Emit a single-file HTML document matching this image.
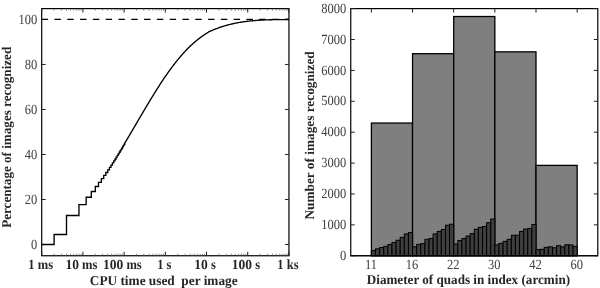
<!DOCTYPE html>
<html><head><meta charset="utf-8"><style>
html,body{margin:0;padding:0;background:#fff;width:600px;height:288px;overflow:hidden}
svg{display:block;filter:grayscale(1)}
text{font-family:"Liberation Serif",serif;fill:#000;text-rendering:geometricPrecision}
.yt{font-size:12.5px;fill:#404040}
.xt{font-size:12.5px;font-weight:bold;fill:#262626}
.lab{font-size:13.3px;font-weight:bold;fill:#262626}
</style></head><body>
<svg width="600" height="288" viewBox="0 0 600 288">
<rect x="41.7" y="8.6" width="247.25" height="247.15" fill="none" stroke="#000" stroke-width="1.2"/>
<path d="M41.7 244.50h4M288.95 244.50h-4" stroke="#222" stroke-width="1"/>
<text transform="translate(37.30,248.70) scale(1.0,1.12)" class="yt" text-anchor="end">0</text>
<path d="M41.7 199.49h4M288.95 199.49h-4" stroke="#222" stroke-width="1"/>
<text transform="translate(37.30,203.69) scale(1.0,1.12)" class="yt" text-anchor="end">20</text>
<path d="M41.7 154.48h4M288.95 154.48h-4" stroke="#222" stroke-width="1"/>
<text transform="translate(37.30,158.68) scale(1.0,1.12)" class="yt" text-anchor="end">40</text>
<path d="M41.7 109.47h4M288.95 109.47h-4" stroke="#222" stroke-width="1"/>
<text transform="translate(37.30,113.67) scale(1.0,1.12)" class="yt" text-anchor="end">60</text>
<path d="M41.7 64.46h4M288.95 64.46h-4" stroke="#222" stroke-width="1"/>
<text transform="translate(37.30,68.66) scale(1.0,1.12)" class="yt" text-anchor="end">80</text>
<path d="M41.7 19.45h4M288.95 19.45h-4" stroke="#222" stroke-width="1"/>
<text transform="translate(37.30,23.65) scale(1.0,1.12)" class="yt" text-anchor="end">100</text>
<path d="M41.70 255.75v-4M41.70 8.6v4" stroke="#222" stroke-width="1"/>
<path d="M54.10 255.75v-2M54.10 8.6v2" stroke="#555" stroke-width="0.7"/>
<path d="M61.36 255.75v-2M61.36 8.6v2" stroke="#555" stroke-width="0.7"/>
<path d="M66.51 255.75v-2M66.51 8.6v2" stroke="#555" stroke-width="0.7"/>
<path d="M70.50 255.75v-2M70.50 8.6v2" stroke="#555" stroke-width="0.7"/>
<path d="M73.77 255.75v-2M73.77 8.6v2" stroke="#555" stroke-width="0.7"/>
<path d="M76.53 255.75v-2M76.53 8.6v2" stroke="#555" stroke-width="0.7"/>
<path d="M78.91 255.75v-2M78.91 8.6v2" stroke="#555" stroke-width="0.7"/>
<path d="M81.02 255.75v-2M81.02 8.6v2" stroke="#555" stroke-width="0.7"/>
<path d="M82.91 255.75v-4M82.91 8.6v4" stroke="#222" stroke-width="1"/>
<path d="M95.31 255.75v-2M95.31 8.6v2" stroke="#555" stroke-width="0.7"/>
<path d="M102.57 255.75v-2M102.57 8.6v2" stroke="#555" stroke-width="0.7"/>
<path d="M107.72 255.75v-2M107.72 8.6v2" stroke="#555" stroke-width="0.7"/>
<path d="M111.71 255.75v-2M111.71 8.6v2" stroke="#555" stroke-width="0.7"/>
<path d="M114.97 255.75v-2M114.97 8.6v2" stroke="#555" stroke-width="0.7"/>
<path d="M117.73 255.75v-2M117.73 8.6v2" stroke="#555" stroke-width="0.7"/>
<path d="M120.12 255.75v-2M120.12 8.6v2" stroke="#555" stroke-width="0.7"/>
<path d="M122.23 255.75v-2M122.23 8.6v2" stroke="#555" stroke-width="0.7"/>
<path d="M124.12 255.75v-4M124.12 8.6v4" stroke="#222" stroke-width="1"/>
<path d="M136.52 255.75v-2M136.52 8.6v2" stroke="#555" stroke-width="0.7"/>
<path d="M143.78 255.75v-2M143.78 8.6v2" stroke="#555" stroke-width="0.7"/>
<path d="M148.93 255.75v-2M148.93 8.6v2" stroke="#555" stroke-width="0.7"/>
<path d="M152.92 255.75v-2M152.92 8.6v2" stroke="#555" stroke-width="0.7"/>
<path d="M156.18 255.75v-2M156.18 8.6v2" stroke="#555" stroke-width="0.7"/>
<path d="M158.94 255.75v-2M158.94 8.6v2" stroke="#555" stroke-width="0.7"/>
<path d="M161.33 255.75v-2M161.33 8.6v2" stroke="#555" stroke-width="0.7"/>
<path d="M163.44 255.75v-2M163.44 8.6v2" stroke="#555" stroke-width="0.7"/>
<path d="M165.32 255.75v-4M165.32 8.6v4" stroke="#222" stroke-width="1"/>
<path d="M177.73 255.75v-2M177.73 8.6v2" stroke="#555" stroke-width="0.7"/>
<path d="M184.99 255.75v-2M184.99 8.6v2" stroke="#555" stroke-width="0.7"/>
<path d="M190.13 255.75v-2M190.13 8.6v2" stroke="#555" stroke-width="0.7"/>
<path d="M194.13 255.75v-2M194.13 8.6v2" stroke="#555" stroke-width="0.7"/>
<path d="M197.39 255.75v-2M197.39 8.6v2" stroke="#555" stroke-width="0.7"/>
<path d="M200.15 255.75v-2M200.15 8.6v2" stroke="#555" stroke-width="0.7"/>
<path d="M202.54 255.75v-2M202.54 8.6v2" stroke="#555" stroke-width="0.7"/>
<path d="M204.65 255.75v-2M204.65 8.6v2" stroke="#555" stroke-width="0.7"/>
<path d="M206.53 255.75v-4M206.53 8.6v4" stroke="#222" stroke-width="1"/>
<path d="M218.94 255.75v-2M218.94 8.6v2" stroke="#555" stroke-width="0.7"/>
<path d="M226.19 255.75v-2M226.19 8.6v2" stroke="#555" stroke-width="0.7"/>
<path d="M231.34 255.75v-2M231.34 8.6v2" stroke="#555" stroke-width="0.7"/>
<path d="M235.34 255.75v-2M235.34 8.6v2" stroke="#555" stroke-width="0.7"/>
<path d="M238.60 255.75v-2M238.60 8.6v2" stroke="#555" stroke-width="0.7"/>
<path d="M241.36 255.75v-2M241.36 8.6v2" stroke="#555" stroke-width="0.7"/>
<path d="M243.75 255.75v-2M243.75 8.6v2" stroke="#555" stroke-width="0.7"/>
<path d="M245.86 255.75v-2M245.86 8.6v2" stroke="#555" stroke-width="0.7"/>
<path d="M247.74 255.75v-4M247.74 8.6v4" stroke="#222" stroke-width="1"/>
<path d="M260.15 255.75v-2M260.15 8.6v2" stroke="#555" stroke-width="0.7"/>
<path d="M267.40 255.75v-2M267.40 8.6v2" stroke="#555" stroke-width="0.7"/>
<path d="M272.55 255.75v-2M272.55 8.6v2" stroke="#555" stroke-width="0.7"/>
<path d="M276.55 255.75v-2M276.55 8.6v2" stroke="#555" stroke-width="0.7"/>
<path d="M279.81 255.75v-2M279.81 8.6v2" stroke="#555" stroke-width="0.7"/>
<path d="M282.57 255.75v-2M282.57 8.6v2" stroke="#555" stroke-width="0.7"/>
<path d="M284.96 255.75v-2M284.96 8.6v2" stroke="#555" stroke-width="0.7"/>
<path d="M287.06 255.75v-2M287.06 8.6v2" stroke="#555" stroke-width="0.7"/>
<path d="M288.95 255.75v-4M288.95 8.6v4" stroke="#222" stroke-width="1"/>
<text transform="translate(34.62,269.30) scale(1.0,1.12)" class="xt" text-anchor="end">1</text>
<text transform="translate(34.62,269.30) scale(1.0,1.12)" class="xt" text-anchor="start" xml:space="preserve"> ms</text>
<text transform="translate(78.96,269.30) scale(1.08,1.12)" class="xt" text-anchor="end">10</text>
<text transform="translate(78.96,269.30) scale(1.0,1.12)" class="xt" text-anchor="start" xml:space="preserve"> ms</text>
<text transform="translate(123.29,269.30) scale(1.08,1.12)" class="xt" text-anchor="end">100</text>
<text transform="translate(123.29,269.30) scale(1.0,1.12)" class="xt" text-anchor="start" xml:space="preserve"> ms</text>
<text transform="translate(163.45,269.30) scale(1.0,1.12)" class="xt" text-anchor="end">1</text>
<text transform="translate(163.45,269.30) scale(1.0,1.12)" class="xt" text-anchor="start" xml:space="preserve"> s</text>
<text transform="translate(207.78,269.30) scale(1.08,1.12)" class="xt" text-anchor="end">10</text>
<text transform="translate(207.78,269.30) scale(1.0,1.12)" class="xt" text-anchor="start" xml:space="preserve"> s</text>
<text transform="translate(252.12,269.30) scale(1.08,1.12)" class="xt" text-anchor="end">100</text>
<text transform="translate(252.12,269.30) scale(1.0,1.12)" class="xt" text-anchor="start" xml:space="preserve"> s</text>
<text transform="translate(283.60,269.30) scale(1.0,1.12)" class="xt" text-anchor="end">1</text>
<text transform="translate(283.60,269.30) scale(1.0,1.12)" class="xt" text-anchor="start" xml:space="preserve"> ks</text>
<path d="M41.7 19.45H288.95" stroke="#000" stroke-width="1.25" stroke-dasharray="6.4 6.4"/>
<polyline points="41.70,244.50 54.10,244.50 54.10,234.50 66.50,234.50 66.50,215.50 78.95,215.50 78.95,204.60 86.15,204.60 86.15,197.20 91.30,197.20 91.30,191.50 95.30,191.50 95.30,186.50 98.50,186.50 98.50,182.30 101.33,182.30 101.33,178.60 103.72,178.60 103.72,175.41 105.83,175.41 105.83,172.52 107.72,172.52 107.72,169.85 109.42,169.85 109.42,167.38 110.98,167.38 110.98,165.07 112.41,165.07 112.41,162.91 113.74,162.91 113.74,160.88 114.97,160.88 114.97,158.96 116.13,158.96 116.13,157.16 117.21,157.16 117.21,155.44 118.24,155.44 118.24,153.81 119.21,153.81 119.21,152.25 120.12,152.25 120.12,150.77 121.00,150.77 121.00,149.35 121.83,149.35 121.83,147.99 122.62,147.99 122.62,146.68 123.39,146.68 123.39,145.42 124.12,145.42 124.12,144.21 124.82,144.21 124.82,143.05 125.32,142.22 125.82,141.38 126.32,140.54 126.82,139.71 127.32,138.87 127.82,138.03 128.32,137.18 128.82,136.34 129.32,135.50 129.82,134.65 130.32,133.80 130.82,132.96 131.32,132.11 131.82,131.26 132.32,130.41 132.82,129.56 133.32,128.71 133.82,127.86 134.32,127.00 134.82,126.15 135.32,125.30 135.82,124.45 136.32,123.59 136.82,122.74 137.32,121.89 137.82,121.03 138.32,120.18 138.82,119.33 139.32,118.48 139.82,117.62 140.32,116.77 140.82,115.92 141.32,115.07 141.82,114.22 142.32,113.37 142.82,112.53 143.32,111.68 143.82,110.83 144.32,109.99 144.82,109.14 145.32,108.30 145.82,107.46 146.32,106.62 146.82,105.78 147.32,104.95 147.82,104.11 148.32,103.28 148.82,102.45 149.32,101.62 149.82,100.79 150.32,99.96 150.82,99.14 151.32,98.32 151.82,97.50 152.32,96.68 152.82,95.86 153.32,95.05 153.82,94.24 154.32,93.43 154.82,92.63 155.32,91.83 155.82,91.03 156.32,90.23 156.82,89.44 157.32,88.65 157.82,87.86 158.32,87.08 158.82,86.30 159.32,85.52 159.82,84.74 160.32,83.97 160.82,83.21 161.32,82.44 161.82,81.68 162.32,80.93 162.82,80.18 163.32,79.43 163.82,78.68 164.32,77.94 164.82,77.21 165.32,76.48 165.82,75.75 166.32,75.03 166.82,74.31 167.32,73.60 167.82,72.89 168.32,72.18 168.82,71.48 169.32,70.79 169.82,70.09 170.32,69.41 170.82,68.73 171.32,68.05 171.82,67.38 172.32,66.71 172.82,66.05 173.32,65.39 173.82,64.74 174.32,64.09 174.82,63.44 175.32,62.81 175.82,62.17 176.32,61.54 176.82,60.92 177.32,60.30 177.82,59.69 178.32,59.08 178.82,58.48 179.32,57.88 179.82,57.28 180.32,56.70 180.82,56.11 181.32,55.53 181.82,54.96 182.32,54.39 182.82,53.83 183.32,53.28 183.82,52.72 184.32,52.18 184.82,51.64 185.32,51.10 185.82,50.57 186.32,50.05 186.82,49.53 187.32,49.01 187.82,48.51 188.32,48.00 188.82,47.51 189.32,47.01 189.82,46.53 190.32,46.05 190.82,45.57 191.32,45.11 191.82,44.64 192.32,44.18 192.82,43.73 193.32,43.29 193.82,42.85 194.32,42.41 194.82,41.98 195.32,41.56 195.82,41.14 196.32,40.72 196.82,40.32 197.32,39.91 197.82,39.51 198.32,39.12 198.82,38.73 199.32,38.35 199.82,37.97 200.32,37.60 200.82,37.23 201.32,36.86 201.82,36.50 202.32,36.15 202.82,35.79 203.32,35.45 203.82,35.11 204.32,34.77 204.82,34.43 205.32,34.10 205.82,33.78 206.32,33.46 206.82,33.14 207.32,32.83 207.82,32.52 208.32,32.21 208.80,31.92 209.30,31.66 209.80,31.43 210.30,31.20 210.80,30.98 211.30,30.76 211.80,30.54 212.30,30.32 212.80,30.11 213.30,29.90 213.80,29.69 214.30,29.49 214.80,29.29 215.30,29.09 215.80,28.89 216.30,28.70 216.80,28.51 217.30,28.32 217.80,28.14 218.30,27.96 218.80,27.78 219.30,27.60 219.80,27.43 220.30,27.25 220.80,27.09 221.30,26.92 221.80,26.75 222.30,26.59 222.80,26.43 223.30,26.28 223.80,26.12 224.30,25.97 224.80,25.82 225.30,25.68 225.80,25.53 226.30,25.39 226.80,25.25 227.30,25.11 227.80,24.98 228.30,24.85 228.80,24.71 229.30,24.59 229.80,24.46 230.30,24.34 230.80,24.21 231.30,24.10 231.80,23.98 232.30,23.86 232.80,23.75 233.30,23.64 233.80,23.53 234.30,23.42 234.80,23.32 235.30,23.21 235.80,23.11 236.30,23.01 236.80,22.92 237.30,22.82 237.80,22.73 238.30,22.64 238.80,22.55 239.30,22.46 239.80,22.37 240.30,22.29 240.80,22.21 241.30,22.13 241.80,22.05 242.30,21.97 242.80,21.89 243.30,21.82 243.80,21.75 244.30,21.68 244.80,21.61 245.30,21.54 245.80,21.47 246.30,21.41 246.80,21.35 247.30,21.29 247.80,21.23 248.30,21.17 248.80,21.11 249.30,21.06 249.80,21.00 250.30,20.95 250.80,20.90 251.30,20.85 251.80,20.80 252.30,20.75 252.80,20.71 253.30,20.66 253.80,20.62 254.30,20.58 254.80,20.54 255.30,20.50 255.80,20.46 256.30,20.42 256.80,20.38 257.30,20.35 257.80,20.31 258.30,20.28 258.80,20.25 259.30,20.22 259.80,20.19 260.30,20.16 260.80,20.13 261.30,20.11 261.80,20.08 262.30,20.05 262.80,20.03 263.30,20.01 263.80,19.98 264.30,19.96 264.80,19.94 265.30,19.92 265.80,19.90 266.30,19.88 266.80,19.87 267.30,19.85 267.80,19.83 268.30,19.82 268.80,19.80 269.30,19.79 269.80,19.77 270.30,19.76 270.80,19.75 271.30,19.74 271.80,19.72 272.30,19.71 272.80,19.70 273.30,19.69 273.80,19.68 274.30,19.67 274.80,19.66 275.30,19.66 275.80,19.65 276.30,19.64 276.80,19.63 277.30,19.63 277.80,19.62 278.30,19.61 278.80,19.61 279.30,19.60 279.80,19.60 280.30,19.59 280.80,19.58 281.30,19.58 281.80,19.57 282.30,19.57 282.80,19.56 283.30,19.56 283.80,19.56 284.30,19.55 284.80,19.55 285.30,19.54 285.80,19.54 286.30,19.53 286.80,19.53 287.30,19.52 287.80,19.52 288.30,19.51 288.80,19.51 288.95,19.50" fill="none" stroke="#000" stroke-width="1.35" stroke-linejoin="miter"/>
<text transform="translate(163.70,284.70) scale(1.0,1.02)" class="lab" text-anchor="middle" xml:space="preserve">CPU time used  per image</text>
<text transform="translate(10.50,137.30) rotate(-90) scale(0.985,1.0)" class="lab" text-anchor="middle">Percentage of images recognized</text>
<rect x="350.75" y="8.6" width="247.05" height="247.15" fill="none" stroke="#000" stroke-width="1.2"/>
<path d="M350.75 255.75h4M597.8 255.75h-4" stroke="#222" stroke-width="1"/>
<text transform="translate(346.30,259.95) scale(1.0,1.12)" class="yt" text-anchor="end">0</text>
<path d="M350.75 224.86h4M597.8 224.86h-4" stroke="#222" stroke-width="1"/>
<text transform="translate(346.30,229.06) scale(1.0,1.12)" class="yt" text-anchor="end">1000</text>
<path d="M350.75 193.96h4M597.8 193.96h-4" stroke="#222" stroke-width="1"/>
<text transform="translate(346.30,198.16) scale(1.0,1.12)" class="yt" text-anchor="end">2000</text>
<path d="M350.75 163.07h4M597.8 163.07h-4" stroke="#222" stroke-width="1"/>
<text transform="translate(346.30,167.27) scale(1.0,1.12)" class="yt" text-anchor="end">3000</text>
<path d="M350.75 132.18h4M597.8 132.18h-4" stroke="#222" stroke-width="1"/>
<text transform="translate(346.30,136.38) scale(1.0,1.12)" class="yt" text-anchor="end">4000</text>
<path d="M350.75 101.28h4M597.8 101.28h-4" stroke="#222" stroke-width="1"/>
<text transform="translate(346.30,105.48) scale(1.0,1.12)" class="yt" text-anchor="end">5000</text>
<path d="M350.75 70.39h4M597.8 70.39h-4" stroke="#222" stroke-width="1"/>
<text transform="translate(346.30,74.59) scale(1.0,1.12)" class="yt" text-anchor="end">6000</text>
<path d="M350.75 39.49h4M597.8 39.49h-4" stroke="#222" stroke-width="1"/>
<text transform="translate(346.30,43.69) scale(1.0,1.12)" class="yt" text-anchor="end">7000</text>
<path d="M350.75 8.60h4M597.8 8.60h-4" stroke="#222" stroke-width="1"/>
<text transform="translate(346.30,12.80) scale(1.0,1.12)" class="yt" text-anchor="end">8000</text>
<path d="M371.40 255.75v-4M371.40 8.6v4" stroke="#222" stroke-width="1"/>
<path d="M412.55 255.75v-4M412.55 8.6v4" stroke="#222" stroke-width="1"/>
<path d="M453.70 255.75v-4M453.70 8.6v4" stroke="#222" stroke-width="1"/>
<path d="M494.85 255.75v-4M494.85 8.6v4" stroke="#222" stroke-width="1"/>
<path d="M536.00 255.75v-4M536.00 8.6v4" stroke="#222" stroke-width="1"/>
<path d="M577.15 255.75v-4M577.15 8.6v4" stroke="#222" stroke-width="1"/>
<rect x="371.40" y="123.06" width="41.15" height="132.69" fill="#7f7f7f" stroke="#000" stroke-width="1.3"/>
<rect x="412.55" y="53.70" width="41.15" height="202.05" fill="#7f7f7f" stroke="#000" stroke-width="1.3"/>
<rect x="453.70" y="16.51" width="41.15" height="239.24" fill="#7f7f7f" stroke="#000" stroke-width="1.3"/>
<rect x="494.85" y="51.85" width="41.15" height="203.90" fill="#7f7f7f" stroke="#000" stroke-width="1.3"/>
<rect x="536.00" y="165.39" width="41.15" height="90.36" fill="#7f7f7f" stroke="#000" stroke-width="1.3"/>
<rect x="371.40" y="250.65" width="4.115" height="5.10" fill="#3f3f3f" stroke="#000" stroke-width="1"/>
<rect x="375.51" y="248.86" width="4.115" height="6.89" fill="#3f3f3f" stroke="#000" stroke-width="1"/>
<rect x="379.63" y="247.53" width="4.115" height="8.22" fill="#3f3f3f" stroke="#000" stroke-width="1"/>
<rect x="383.75" y="246.36" width="4.115" height="9.39" fill="#3f3f3f" stroke="#000" stroke-width="1"/>
<rect x="387.86" y="244.54" width="4.115" height="11.21" fill="#3f3f3f" stroke="#000" stroke-width="1"/>
<rect x="391.97" y="242.43" width="4.115" height="13.32" fill="#3f3f3f" stroke="#000" stroke-width="1"/>
<rect x="396.09" y="240.24" width="4.115" height="15.51" fill="#3f3f3f" stroke="#000" stroke-width="1"/>
<rect x="400.20" y="237.34" width="4.115" height="18.41" fill="#3f3f3f" stroke="#000" stroke-width="1"/>
<rect x="404.32" y="233.94" width="4.115" height="21.81" fill="#3f3f3f" stroke="#000" stroke-width="1"/>
<rect x="408.44" y="232.55" width="4.115" height="23.20" fill="#3f3f3f" stroke="#000" stroke-width="1"/>
<rect x="412.55" y="246.76" width="4.115" height="8.99" fill="#3f3f3f" stroke="#000" stroke-width="1"/>
<rect x="416.66" y="244.35" width="4.115" height="11.40" fill="#3f3f3f" stroke="#000" stroke-width="1"/>
<rect x="420.78" y="243.64" width="4.115" height="12.11" fill="#3f3f3f" stroke="#000" stroke-width="1"/>
<rect x="424.89" y="239.35" width="4.115" height="16.40" fill="#3f3f3f" stroke="#000" stroke-width="1"/>
<rect x="429.01" y="238.45" width="4.115" height="17.30" fill="#3f3f3f" stroke="#000" stroke-width="1"/>
<rect x="433.12" y="233.94" width="4.115" height="21.81" fill="#3f3f3f" stroke="#000" stroke-width="1"/>
<rect x="437.24" y="231.44" width="4.115" height="24.31" fill="#3f3f3f" stroke="#000" stroke-width="1"/>
<rect x="441.35" y="229.52" width="4.115" height="26.23" fill="#3f3f3f" stroke="#000" stroke-width="1"/>
<rect x="445.47" y="225.23" width="4.115" height="30.52" fill="#3f3f3f" stroke="#000" stroke-width="1"/>
<rect x="449.58" y="224.24" width="4.115" height="31.51" fill="#3f3f3f" stroke="#000" stroke-width="1"/>
<rect x="453.70" y="244.04" width="4.115" height="11.71" fill="#3f3f3f" stroke="#000" stroke-width="1"/>
<rect x="457.81" y="240.55" width="4.115" height="15.20" fill="#3f3f3f" stroke="#000" stroke-width="1"/>
<rect x="461.93" y="238.54" width="4.115" height="17.21" fill="#3f3f3f" stroke="#000" stroke-width="1"/>
<rect x="466.05" y="236.04" width="4.115" height="19.71" fill="#3f3f3f" stroke="#000" stroke-width="1"/>
<rect x="470.16" y="233.63" width="4.115" height="22.12" fill="#3f3f3f" stroke="#000" stroke-width="1"/>
<rect x="474.27" y="229.24" width="4.115" height="26.51" fill="#3f3f3f" stroke="#000" stroke-width="1"/>
<rect x="478.39" y="227.33" width="4.115" height="28.42" fill="#3f3f3f" stroke="#000" stroke-width="1"/>
<rect x="482.50" y="226.43" width="4.115" height="29.32" fill="#3f3f3f" stroke="#000" stroke-width="1"/>
<rect x="486.62" y="222.72" width="4.115" height="33.03" fill="#3f3f3f" stroke="#000" stroke-width="1"/>
<rect x="490.74" y="219.02" width="4.115" height="36.73" fill="#3f3f3f" stroke="#000" stroke-width="1"/>
<rect x="494.85" y="244.84" width="4.115" height="10.91" fill="#3f3f3f" stroke="#000" stroke-width="1"/>
<rect x="498.96" y="243.36" width="4.115" height="12.39" fill="#3f3f3f" stroke="#000" stroke-width="1"/>
<rect x="503.08" y="241.35" width="4.115" height="14.40" fill="#3f3f3f" stroke="#000" stroke-width="1"/>
<rect x="507.19" y="239.35" width="4.115" height="16.40" fill="#3f3f3f" stroke="#000" stroke-width="1"/>
<rect x="511.31" y="235.27" width="4.115" height="20.48" fill="#3f3f3f" stroke="#000" stroke-width="1"/>
<rect x="515.42" y="235.27" width="4.115" height="20.48" fill="#3f3f3f" stroke="#000" stroke-width="1"/>
<rect x="519.54" y="231.47" width="4.115" height="24.28" fill="#3f3f3f" stroke="#000" stroke-width="1"/>
<rect x="523.65" y="229.06" width="4.115" height="26.69" fill="#3f3f3f" stroke="#000" stroke-width="1"/>
<rect x="527.77" y="228.47" width="4.115" height="27.28" fill="#3f3f3f" stroke="#000" stroke-width="1"/>
<rect x="531.88" y="224.45" width="4.115" height="31.30" fill="#3f3f3f" stroke="#000" stroke-width="1"/>
<rect x="536.00" y="249.54" width="4.115" height="6.21" fill="#3f3f3f" stroke="#000" stroke-width="1"/>
<rect x="540.12" y="249.35" width="4.115" height="6.40" fill="#3f3f3f" stroke="#000" stroke-width="1"/>
<rect x="544.23" y="247.35" width="4.115" height="8.40" fill="#3f3f3f" stroke="#000" stroke-width="1"/>
<rect x="548.35" y="246.85" width="4.115" height="8.90" fill="#3f3f3f" stroke="#000" stroke-width="1"/>
<rect x="552.46" y="247.75" width="4.115" height="8.00" fill="#3f3f3f" stroke="#000" stroke-width="1"/>
<rect x="556.58" y="245.65" width="4.115" height="10.10" fill="#3f3f3f" stroke="#000" stroke-width="1"/>
<rect x="560.69" y="246.85" width="4.115" height="8.90" fill="#3f3f3f" stroke="#000" stroke-width="1"/>
<rect x="564.80" y="244.75" width="4.115" height="11.00" fill="#3f3f3f" stroke="#000" stroke-width="1"/>
<rect x="568.92" y="244.94" width="4.115" height="10.81" fill="#3f3f3f" stroke="#000" stroke-width="1"/>
<rect x="573.03" y="246.45" width="4.115" height="9.30" fill="#3f3f3f" stroke="#000" stroke-width="1"/>
<path d="M350.75 255.75H597.8" stroke="#000" stroke-width="1.2"/>
<text transform="translate(370.90,269.00) scale(1.0,1.12)" class="yt" text-anchor="middle">11</text>
<text transform="translate(412.05,269.00) scale(1.0,1.12)" class="yt" text-anchor="middle">16</text>
<text transform="translate(453.20,269.00) scale(1.0,1.12)" class="yt" text-anchor="middle">22</text>
<text transform="translate(494.35,269.00) scale(1.0,1.12)" class="yt" text-anchor="middle">30</text>
<text transform="translate(535.50,269.00) scale(1.0,1.12)" class="yt" text-anchor="middle">42</text>
<text transform="translate(576.65,269.00) scale(1.0,1.12)" class="yt" text-anchor="middle">60</text>
<text transform="translate(468.40,284.00) scale(0.987,1.02)" class="lab" text-anchor="middle">Diameter of quads in index (arcmin)</text>
<text transform="translate(314.40,135.40) rotate(-90) scale(1.0,1.0)" class="lab" text-anchor="middle">Number of images recognized</text>
</svg>
</body></html>
